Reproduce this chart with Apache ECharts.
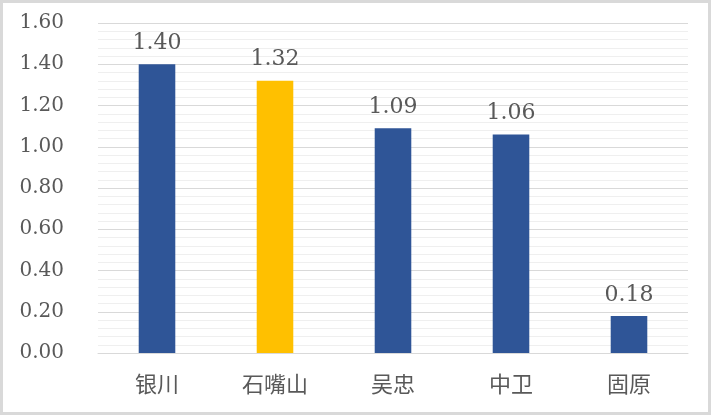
<!DOCTYPE html>
<html>
<head>
<meta charset="utf-8">
<script src="https://cdn.jsdelivr.net/npm/echarts@6/dist/echarts.min.js"></script>
<style>
html,body{margin:0;padding:0;background:#fff;}
#c{width:711px;height:415px;}
</style>
</head>
<body>
<div id="c"></div>
<script>
const categories = ['银川', '石嘴山', '吴忠', '中卫', '固原'];
const values = [1.40, 1.32, 1.09, 1.06, 0.18];
const barColors = ['#2F5597', '#FFC000', '#2F5597', '#2F5597', '#2F5597'];
const yMin = 0, yMax = 1.6, yInterval = 0.2;

const chart = echarts.init(document.getElementById('c'), null, {renderer: 'canvas'});
chart.setOption({
  animation: false,
  backgroundColor: '#fff',
  graphic: [{
    type: 'rect', silent: true, z: 100,
    shape: {x: 1.5, y: 1.5, width: 708, height: 412},
    style: {fill: 'none', stroke: '#d9d9d9', lineWidth: 3}
  }],
  grid: {left: 98, right: 23, top: 23, bottom: 62, containLabel: false},
  xAxis: {
    type: 'category',
    data: categories,
    axisLine: {show: true, lineStyle: {color: '#d9d9d9', width: 1}},
    axisTick: {show: false},
    axisLabel: {color: '#595959', fontSize: 22, margin: 20, fontFamily: 'Noto Sans CJK SC'}
  },
  yAxis: {
    type: 'value',
    min: yMin, max: yMax, interval: yInterval,
    axisLine: {show: false},
    axisTick: {show: false},
    axisLabel: {
      color: '#595959', fontSize: 20, margin: 34, fontFamily: 'DejaVu Serif',
      formatter: v => v.toFixed(2)
    },
    splitLine: {show: true, lineStyle: {color: '#d9d9d9', width: 1}},
    minorTick: {show: false, splitNumber: 5},
    minorSplitLine: {show: true, lineStyle: {color: '#efefef', width: 1}}
  },
  series: [{
    type: 'bar',
    data: values.map((v, i) => ({value: v, itemStyle: {color: barColors[i]}})),
    barWidth: '31%',
    label: {
      show: true, position: 'top', distance: 10,
      color: '#595959', fontSize: 22, fontFamily: 'DejaVu Serif',
      formatter: p => p.value.toFixed(2)
    }
  }]
});
</script>
</body>
</html>
